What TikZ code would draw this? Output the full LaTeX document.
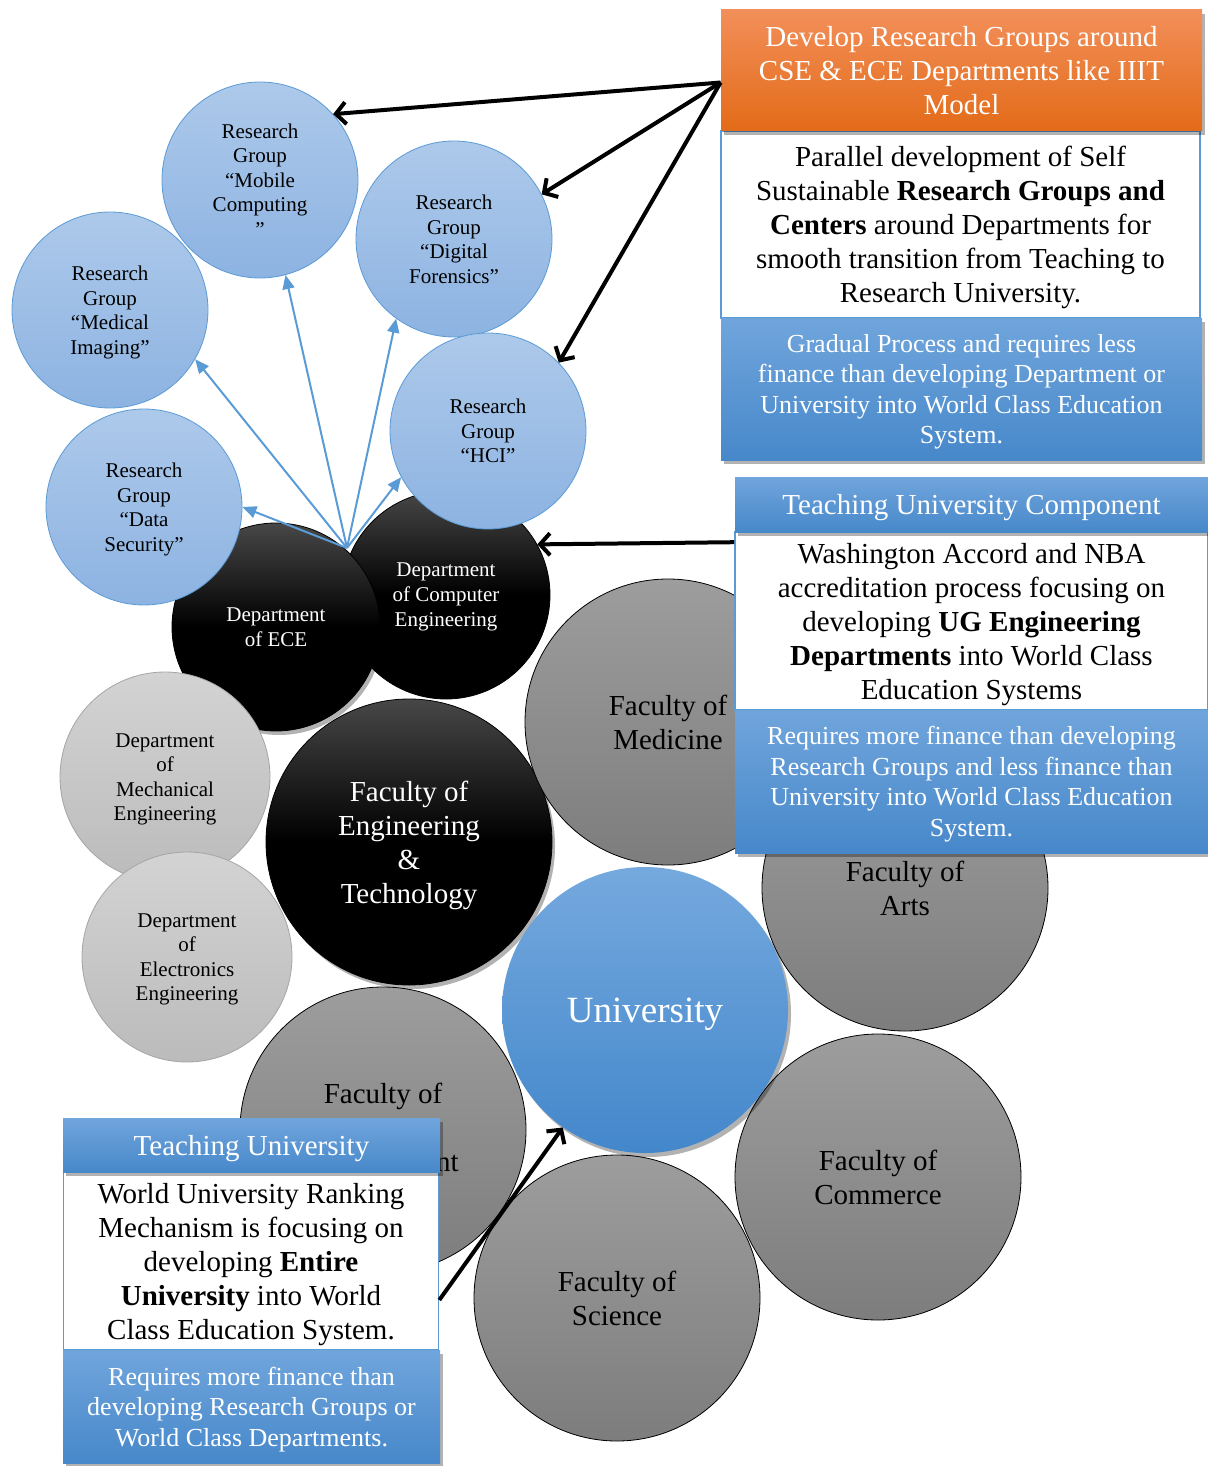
\documentclass[tikz,border=0pt]{standalone}
\usepackage{fontspec}
\setmainfont{Liberation Serif}
\usetikzlibrary{arrows.meta, shadows}
\definecolor{RGTop}{HTML}{ADC9EA}
\definecolor{RGBottom}{HTML}{8DB3E2}
\definecolor{RGEdge}{HTML}{5B9BD5}
\definecolor{GDTop}{HTML}{D3D3D3}
\definecolor{GDBottom}{HTML}{BBBBBB}
\definecolor{GDEdge}{HTML}{A5A5A5}
\definecolor{FacTop}{HTML}{9D9D9D}
\definecolor{FacBottom}{HTML}{7D7D7D}
\definecolor{UnTop}{HTML}{75A9DE}
\definecolor{UnBottom}{HTML}{4387CB}
\definecolor{BxTop}{HTML}{70A5DC}
\definecolor{BxBottom}{HTML}{4788CA}
\definecolor{OrTop}{HTML}{F28F5A}
\definecolor{OrBottom}{HTML}{E36B18}

\begin{document}
\begin{tikzpicture}[x=0.5pt, y=-0.5pt,
    rgroup/.style={circle, inner sep=0pt, minimum size=98pt, draw=RGEdge, thin,
                   top color=RGTop, bottom color=RGBottom, align=center,
                   font=\fontsize{10.5}{12.25}\selectfont, text depth=-4pt},
    kdept/.style={circle, inner sep=0pt, minimum size=104pt, draw=black,
                  top color=black!72, bottom color=black, middle color=black,
                  text=white, align=center, font=\fontsize{10.5}{12.5}\selectfont,
                  text depth=-3pt},
    gdept/.style={circle, inner sep=0pt, minimum size=105pt, draw=GDEdge,
                  top color=GDTop, bottom color=GDBottom, align=center,
                  font=\fontsize{10.5}{12.25}\selectfont, text depth=-1.2pt},
    fac/.style={circle, inner sep=0pt, minimum size=143pt, draw=black,
                top color=FacTop, bottom color=FacBottom, align=center,
                font=\fontsize{14.5}{17}\selectfont},
    shad/.style={drop shadow={shadow xshift=1.5pt, shadow yshift=-2pt,
                 opacity=0.3, fill=black}},
    headbox/.style={rectangle, inner sep=0pt, align=center, text=white,
                    font=\fontsize{14.5}{17}\selectfont, shad},
    wbox/.style={rectangle, inner sep=0pt, align=center, fill=white,
                 draw=RGEdge, line width=0.8pt, font=\fontsize{14.5}{17}\selectfont,
                 text depth=-7.8pt},
    bbox/.style={rectangle, inner sep=0pt, align=center, text=white,
                 top color=BxTop, bottom color=BxBottom, shad,
                 font=\fontsize{13}{15.25}\selectfont, text depth=-0.2pt},
    karr/.style={-{Straight Barb[length=5pt, width=11pt]}, line width=2pt},
    barr/.style={-{Triangle[length=7pt, width=6pt]}, draw=RGEdge, line width=1pt}
  ]
  \useasboundingbox (0,0) rectangle (1208,1466);

  % departments of the engineering faculty
  \node[kdept] (cse) at (446,595) {Department\\of Computer\\Engineering};
  \node[kdept, shad, text depth=-6pt] (ece) at (276,627) {Department\\of ECE};

  % research groups
  \node[rgroup, text depth=-8pt] (mobile) at (260,180)
       {Research\\Group\\“Mobile\\Computing\\”};
  \node[rgroup] (digfor) at (454,239) {Research\\Group\\“Digital\\Forensics”};
  \node[rgroup] (medimg) at (110,310) {Research\\Group\\“Medical\\Imaging”};
  \node[rgroup] (hci)    at (488,431) {Research\\Group\\“HCI”};
  \node[rgroup] (datsec) at (144,507) {Research\\Group\\“Data\\Security”};

  \coordinate (hub) at (347,548);
  \draw[barr] (hub) -- (datsec.east);
  \draw[barr] (hub) -- (medimg.-30);
  \draw[barr] (hub) -- (mobile.-75);
  \draw[barr] (hub) -- (digfor.-126);
  \draw[barr] (hub) -- (hci.-152);

  \node[gdept] (mech) at (165,777) {Department\\of\\Mechanical\\Engineering};
  \node[gdept] (elec) at (187,957) {Department\\of\\Electronics\\Engineering};

  % faculties
  \node[fac, top color=black!72, bottom color=black, middle color=black,
        text=white, shad, text depth=-0.8pt] (feng) at (409,842)
       {Faculty of\\Engineering\\\&\\Technology};
  \node[fac] (fmed) at (668,722) {Faculty of\\Medicine};
  \node[fac] (farts) at (905,888) {Faculty of\\Arts};
  \node[fac] (fman) at (383,1130) {Faculty of\\[17pt]Management};
  \node[fac] (fcom) at (878,1177) {Faculty of\\Commerce};
  \node[fac] (fsci) at (617,1298) {Faculty of\\Science};
  \node[fac, draw=none, top color=UnTop, bottom color=UnBottom, text=white,
        font=\fontsize{18.5}{22}\selectfont, shad, text depth=-1pt] (univ) at (645,1010)
       {University};

  % research group component
  \node[wbox, minimum width=239.5pt, minimum height=93.5pt] (rgtext) at (960.5,224.5)
       {Parallel development of Self\\Sustainable \textbf{Research Groups and}\\
        \textbf{Centers} around Departments for\\smooth transition from Teaching to\\
        Research University.};
  \node[headbox, top color=OrTop, bottom color=OrBottom, minimum width=240.5pt,
        minimum height=60.5pt] (rghead) at (961.5,70.5)
       {Develop Research Groups around\\CSE \& ECE Departments like IIIT\\Model};
  \node[bbox, minimum width=240.5pt, minimum height=71pt] (rgnote) at (961.5,389)
       {Gradual Process and requires less\\finance than developing Department or\\
        University into World Class Education\\System.};

  % teaching university component
  \node[wbox, minimum width=236.5pt, minimum height=89pt] (tctext) at (971.5,621)
       {Washington Accord and NBA\\accreditation process focusing on\\
        developing \textbf{UG Engineering}\\\textbf{Departments} into World Class\\
        Education Systems};
  \node[headbox, top color=BxTop, bottom color=BxBottom, minimum width=236.5pt,
        minimum height=27.5pt, text depth=-0.3pt] (tchead) at (971.5,504.5)
       {Teaching University Component};
  \node[bbox, minimum width=236.5pt, minimum height=71.5pt] (tcnote) at (971.5,781.5)
       {Requires more finance than developing\\Research Groups and less finance than\\
        University into World Class Education\\System.};

  % teaching university
  \node[wbox, minimum width=187.5pt, minimum height=89pt] (tutext) at (251,1261)
       {World University Ranking\\Mechanism is focusing on\\developing \textbf{Entire}\\
        \textbf{University} into World\\Class Education System.};
  \node[headbox, top color=BxTop, bottom color=BxBottom, minimum width=188.5pt,
        minimum height=27pt, text depth=-0.3pt] (tuhead) at (251.5,1145)
       {Teaching University};
  \node[bbox, minimum width=188.5pt, minimum height=56.5pt] (tunote) at (251.5,1406.5)
       {Requires more finance than\\developing Research Groups or\\World Class Departments.};

  % connectors
  \coordinate (rgout) at ([yshift=-6pt]rghead.west);
  \draw[karr] (rgout) -- (mobile.42);
  \draw[karr] (rgout) -- (digfor.27);
  \draw[karr] (rgout) -- (hci.44);
  \coordinate (tcout) at ([yshift=-5.5pt]tctext.north west);
  \draw[karr] (tcout) -- (cse.29);
  \coordinate (tuout) at ([yshift=-19.5pt]tutext.east);
  \draw[karr] (tuout) -- (univ.-125);
\end{tikzpicture}
\end{document}
